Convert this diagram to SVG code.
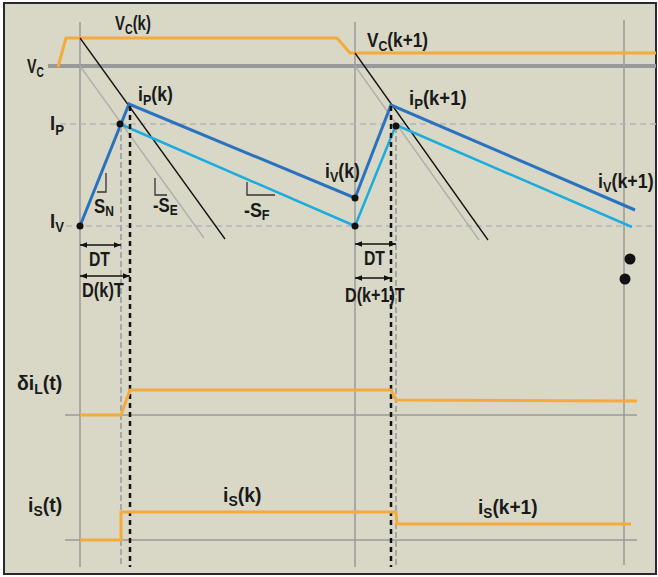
<svg xmlns="http://www.w3.org/2000/svg" width="658" height="577" viewBox="0 0 658 577">
<defs>
<style>
.bg{fill:#d9d8c6;stroke:#2a2a2a;stroke-width:2}
.grid{stroke:#9a9a9a;stroke-width:1.5;fill:none}
.vc{stroke:#999;stroke-width:4;fill:none}
.hd{stroke:#b4b4bc;stroke-width:1.5;stroke-dasharray:6 4;fill:none}
.or{stroke:#f5aa3c;stroke-width:3;fill:none;stroke-linejoin:miter}
.blk{stroke:#111;stroke-width:1.3;fill:none}
.gry{stroke:#aeaeae;stroke-width:1.3;fill:none}
.db{stroke:#2a72bf;stroke-width:3;fill:none;stroke-linejoin:miter}
.cy{stroke:#1cadde;stroke-width:2.5;fill:none;stroke-linejoin:miter}
.vbd{stroke:#111;stroke-width:2.5;stroke-dasharray:5 4;fill:none}
.vgd{stroke:#a6a6a6;stroke-width:2;stroke-dasharray:6 3;fill:none}
.arr{stroke:#111;stroke-width:1.3;fill:none;marker-start:url(#ah);marker-end:url(#ah)}
.ang{stroke:#333;stroke-width:1.3;fill:none}
text{font-family:"Liberation Sans",Arial,sans-serif;font-size:21px;fill:#1a1a1a;font-weight:bold}
.sub{font-size:15px}
</style>
<marker id="ah" viewBox="0 0 10 10" refX="10" refY="5" markerWidth="7" markerHeight="7" orient="auto-start-reverse" markerUnits="userSpaceOnUse">
<path d="M0,1 L10,5 L0,9 z" fill="#111"/>
</marker>
</defs>
<rect class="bg" x="4" y="3" width="652" height="571"/>
<g id="grid">
<line class="grid" x1="80" y1="22" x2="80" y2="567"/>
<line class="grid" x1="355" y1="22" x2="355" y2="567"/>
<line class="grid" x1="624" y1="20" x2="624" y2="565"/>
<line class="grid" x1="65" y1="415" x2="637" y2="415"/>
<line class="grid" x1="65" y1="540" x2="637" y2="540"/>
<line class="vc" x1="48" y1="66" x2="656" y2="66"/>
<line class="hd" x1="60" y1="124" x2="656" y2="124"/>
<line class="hd" x1="66" y1="226" x2="656" y2="226"/>
</g>
<g id="connectors">
<polyline class="or" points="58,67 66,38 337,38 350,53 656,53"/>
<line class="blk" x1="80" y1="38" x2="225" y2="239"/>
<line class="gry" x1="80" y1="66" x2="204" y2="238"/>
<line class="blk" x1="355" y1="53" x2="488" y2="240"/>
<line class="gry" x1="355" y1="66" x2="479" y2="240"/>
<polyline class="cy" points="120,124 355,226 396,125 632,227"/>
<polyline class="db" points="80,226 129,104 355,198 391,105 635,210"/>
<line class="vgd" x1="121" y1="126" x2="121" y2="567"/>
<line class="vbd" x1="130" y1="106" x2="130" y2="567"/>
<line class="vbd" x1="391" y1="106" x2="391" y2="567"/>
<line class="vgd" x1="396" y1="127" x2="396" y2="567"/>
<line class="arr" x1="80" y1="245" x2="121" y2="245"/>
<line class="arr" x1="80" y1="276" x2="130" y2="276"/>
<line class="arr" x1="355" y1="244" x2="396" y2="244"/>
<line class="arr" x1="355" y1="278" x2="391" y2="278"/>
<polyline class="ang" points="106,173 106,192 97,192"/>
<polyline class="ang" points="155,178 155,195 167,195"/>
<polyline class="ang" points="247,182 247,195 275,195"/>
<polyline class="or" points="80,415 121,415 130,390 391,390 396,400 637,401"/>
<polyline class="or" points="80,540 121,540 121,512 396,512 397,524 631,524"/>
</g>
<g id="dots" fill="#111">
<circle cx="80" cy="226" r="3.5"/>
<circle cx="120" cy="124" r="3.5"/>
<circle cx="355" cy="198" r="3.5"/>
<circle cx="355" cy="226" r="3.5"/>
<circle cx="396" cy="126" r="3.5"/>
<circle cx="630" cy="259" r="5.5"/>
<circle cx="625" cy="279" r="5.5"/>
</g>
<g id="labels">
<text transform="translate(115,30) scale(0.71,1)">V<tspan class="sub" dy="4">C</tspan><tspan dy="-4">(k)</tspan></text>
<text transform="translate(27,73) scale(0.68,1)">V<tspan class="sub" dy="4">C</tspan></text>
<text transform="translate(367,47) scale(0.82,1)">V<tspan class="sub" dy="4">C</tspan><tspan dy="-4">(k+1)</tspan></text>
<text transform="translate(138,101) scale(0.84,1)">i<tspan class="sub" dy="4">P</tspan><tspan dy="-4">(k)</tspan></text>
<text transform="translate(50,130) scale(0.88,1)">I<tspan class="sub" dy="5">P</tspan></text>
<text transform="translate(50,228) scale(0.88,1)">I<tspan class="sub" dy="4">V</tspan></text>
<text transform="translate(409,105) scale(0.88,1)">i<tspan class="sub" dy="4">P</tspan><tspan dy="-4">(k+1)</tspan></text>
<text transform="translate(325,178) scale(0.84,1)">i<tspan class="sub" dy="4">V</tspan><tspan dy="-4">(k)</tspan></text>
<text transform="translate(598,188) scale(0.85,1)">i<tspan class="sub" dy="4">V</tspan><tspan dy="-4">(k+1)</tspan></text>
<text transform="translate(94,213) scale(0.8,1)">S<tspan class="sub" dy="3">N</tspan></text>
<text transform="translate(153,212) scale(0.8,1)">-S<tspan class="sub" dy="3">E</tspan></text>
<text transform="translate(244,217) scale(0.85,1)">-S<tspan class="sub" dy="3">F</tspan></text>
<text transform="translate(89,266) scale(0.75,1)">DT</text>
<text transform="translate(82,297) scale(0.78,1)">D(k)T</text>
<text transform="translate(364,265) scale(0.75,1)">DT</text>
<text transform="translate(345,302) scale(0.77,1)">D(k+1)T</text>
<text transform="translate(17,390) scale(0.93,1)">δi<tspan class="sub" dy="4">L</tspan><tspan dy="-4">(t)</tspan></text>
<text transform="translate(28,512) scale(0.93,1)">i<tspan class="sub" dy="4">S</tspan><tspan dy="-4">(t)</tspan></text>
<text transform="translate(223,502) scale(0.93,1)">i<tspan class="sub" dy="4">S</tspan><tspan dy="-4">(k)</tspan></text>
<text transform="translate(478,514) scale(0.91,1)">i<tspan class="sub" dy="4">S</tspan><tspan dy="-4">(k+1)</tspan></text>
</g>
</svg>
